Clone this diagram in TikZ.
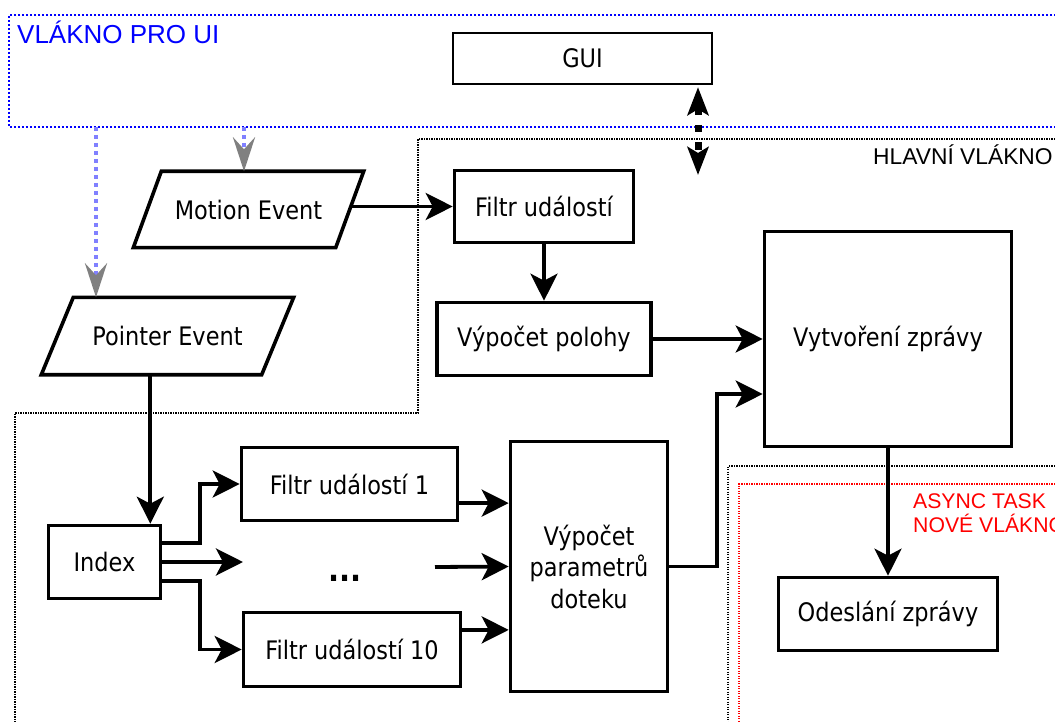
\documentclass[tikz,border=0pt]{standalone}
\usepackage{fontspec}
\setmainfont{DejaVu Sans}[FakeStretch=0.88]
\newfontfamily\labelfont{Liberation Sans}
\usetikzlibrary{arrows.meta,calc}

\definecolor{uiblue}{RGB}{0,0,255}
\definecolor{linkblue}{RGB}{128,128,255}
\definecolor{headgray}{RGB}{128,128,128}
\definecolor{taskred}{RGB}{255,0,0}

\newcommand\boxfont{\fontsize{25.5}{31.5}\selectfont}

\tikzset{
  box/.style={draw, line width=3.6pt, align=center, font=\boxfont},
  ioshape/.style={line width=3.6pt, line join=miter},
  arr/.style={line width=3.8pt, -{Stealth[length=27pt,width=27pt,inset=7pt]}},
  linkarrow/.style={draw=linkblue, line width=4.3pt, dash pattern=on 4pt off 4pt,
    -{Stealth[length=34pt,width=22pt,inset=12pt,color=headgray]}},
  guiarrow/.style={line width=7pt, dash pattern=on 7.5pt off 10pt,
    {Stealth[length=28pt,width=21pt,inset=6pt]}-{Stealth[length=28pt,width=21pt,inset=6pt]}},
  uiborder/.style={draw=uiblue, line width=1.8pt, dash pattern=on 1.8pt off 2.2pt},
  mainborder/.style={draw=black, line width=1.2pt, dash pattern=on 1.2pt off 1.3pt},
  taskborder/.style={draw=taskred, line width=1.2pt, dash pattern=on 1.2pt off 1.3pt},
}

\begin{document}
\begin{tikzpicture}[x=1pt, y=-1pt, every node/.style={inner sep=0pt}]
\clip (0,0) rectangle (1055,722);
\fill[white] (0,0) rectangle (1055,722);

% thread regions
\draw[uiborder] (1060,15) -- (9,15) -- (9,127) -- (1060,127);
\draw[mainborder] (1060,139) -- (418,139) -- (418,413) -- (15,413) -- (15,730);
\draw[mainborder] (1060,466) -- (728,466) -- (728,730);
\draw[taskborder] (1060,484) -- (739,484) -- (739,730);

\node[anchor=base west, text=uiblue, font=\labelfont\fontsize{26}{30}\selectfont] (uilabel) at (17,44) {VLÁKNO PRO UI};
\node[anchor=base west, font=\labelfont\fontsize{22.8}{26}\selectfont] (mainlabel) at (873,165) {HLAVNÍ VLÁKNO};
\node[anchor=base west, text=taskred, font=\labelfont\fontsize{21.2}{24}\selectfont] (tasklabel) at (913,508) {ASYNC TASK};
\node[anchor=base west, text=taskred, font=\labelfont\fontsize{21.2}{24}\selectfont] (tasklabel2) at (913,532) {NOVÉ VLÁKNO};

% blocks
\node[box, line width=2.3pt, minimum width=259pt, minimum height=51pt] (gui) at (582.5,58.5) {GUI};
\node[font=\boxfont, minimum width=202pt, minimum height=76pt] (motion) at (248.5,209.5) {Motion Event};
\node[font=\boxfont, minimum width=220pt, minimum height=77pt] (pointer) at (167.5,336) {Pointer Event};
\node[box, minimum width=179pt, minimum height=72pt] (filtr) at (544,206.5) {Filtr událostí};
\node[box, minimum width=214pt, minimum height=73pt] (poloha) at (544,339) {Výpočet polohy};
\node[box, minimum width=247pt, minimum height=215pt] (vytvor) at (888,339) {Vytvoření zprávy};
\node[box, minimum width=112pt, minimum height=73pt] (index) at (104.5,562) {Index};
\node[box, minimum width=216pt, minimum height=73pt] (f1) at (349.5,484) {Filtr událostí 1};
\node[box, minimum width=217pt, minimum height=74pt] (f10) at (352,649.5) {Filtr událostí 10};
\node[box, minimum width=157pt, minimum height=250pt] (param) at (589,566.5) {Výpočet\\parametrů\\doteku};
\node[box, minimum width=219pt, minimum height=73pt] (odesl) at (888,614) {Odeslání zprávy};
\node[font=\fontsize{33}{36}\selectfont\bfseries, anchor=base] (dots) at (345,581) {...};

% slanted input/output outlines
\draw[ioshape] ([xshift=-14pt]motion.south west) -- ([xshift=-14pt]motion.south east)
  -- ([xshift=14pt]motion.north east) -- ([xshift=14pt]motion.north west) -- cycle;
\draw[ioshape] ([xshift=-16pt]pointer.south west) -- ([xshift=-16pt]pointer.south east)
  -- ([xshift=16pt]pointer.north east) -- ([xshift=16pt]pointer.north west) -- cycle;

% events coming from the UI thread
\coordinate (uiA) at (96,127);
\coordinate (uiB) at (244,127);
\draw[linkarrow] (uiA) -- (pointer.north -| uiA);
\draw[linkarrow] (uiB) -- (motion.north -| uiB);

% GUI <-> main thread
\coordinate (guilink) at (698,175);
\draw[guiarrow] ([yshift=-2pt]gui.south -| guilink) -- (guilink);

% main flow
\draw[arr] (motion.east |- filtr.west) -- (filtr.west);
\draw[arr] (filtr.south) -- (poloha.north);
\draw[arr] (poloha.east) -- (vytvor.west);
\draw[arr] (vytvor.south) -- (odesl.north);

\coordinate (pidx) at ($(index.north east)+(-12,0)$);
\draw[arr] (pointer.south -| pidx) -- (pidx);

\draw[arr] ($(index.east)+(0,-19)$) -- ++(38,0) |- (f1.west);
\coordinate (midin) at (243,562);
\draw[arr] (index.east) -- (midin);
\draw[arr] ($(index.east)+(0,19)$) -- ++(38,0) |- (f10.west);

\coordinate (pin1) at ($(param.north west)!0.25!(param.south west)$);
\coordinate (pin2) at ($(param.north west)!0.5!(param.south west)$);
\coordinate (pin3) at ($(param.north west)!0.75!(param.south west)$);
\coordinate (midout) at (435,567);
\draw[arr] (f1.east |- pin1) -- (pin1);
\draw[arr] (midout) -- (pin2);
\draw[arr] (f10.east |- pin3) -- (pin3);

\draw[arr] (param.east) -- ++(48,0) |- ($(vytvor.west)+(0,55)$);
\end{tikzpicture}
\end{document}
